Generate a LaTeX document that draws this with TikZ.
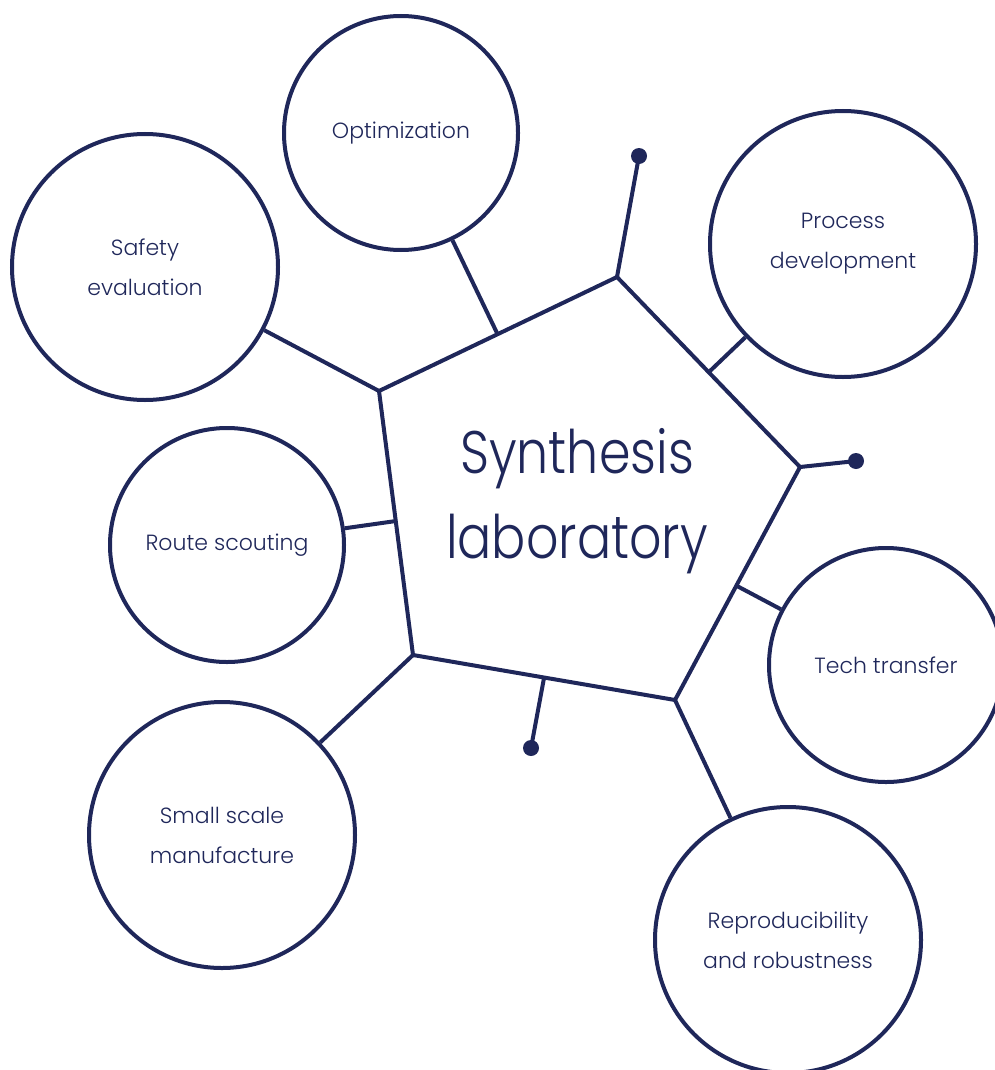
\documentclass[tikz,border=0pt]{standalone}
\usepackage{fontspec}
\IfFontExistsTF{Poppins Light}{\setmainfont{Poppins Light}}{\setmainfont{Poppins}}
\definecolor{navy}{HTML}{1F275A}
\tikzset{
  ln/.style={draw=navy,line width=4pt},
  bubble/.style={circle,draw=navy,line width=4pt,inner sep=0pt,text=navy,align=center,
    font=\fontsize{22}{40}\selectfont},
  dotend/.style={circle,fill=navy,inner sep=0pt,minimum size=16pt},
}
\begin{document}
\begin{tikzpicture}[x=1pt,y=-1pt]
\useasboundingbox (0,0) rectangle (995,1070);
\clip (0,0) rectangle (995,1070);
% pentagon vertices
\coordinate (P1) at (617,277);
\coordinate (P2) at (800,467);
\coordinate (P3) at (675,700);
\coordinate (P4) at (413,655);
\coordinate (P5) at (379,391);
\draw[ln,line join=miter] (P1) -- (P2) -- (P3) -- (P4) -- (P5) -- cycle;
\node[text=navy,inner sep=0pt] (title) at (577,499)
  {\scalebox{0.845}[1]{\fontsize{60}{85}\selectfont\begin{tabular}{@{}c@{}}Synthesis\\laboratory\end{tabular}}};
% edge attach points
\coordinate (eOpt) at (497,333);
\coordinate (eProc) at (710,371);
\coordinate (eRoute) at (396,521);
\coordinate (eTech) at (737,586);
\coordinate (eBot) at (544,678);
% circles
\node[bubble,minimum size=234pt] (opt) at (401,133) {Optimization};
\node[bubble,minimum size=266pt] (safe) at (145,267) {Safety\\evaluation};
\node[bubble,minimum size=266pt] (proc) at (843,244) {Process\\development};
\node[bubble,minimum size=234pt] (route) at (227,545) {Route scouting};
\node[bubble,minimum size=234pt] (tech) at (886,665) {Tech transfer};
\node[bubble,minimum size=266pt] (small) at (222,835) {Small scale\\manufacture};
\node[bubble,minimum size=266pt] (repro) at (788,940) {Reproducibility\\and robustness};
% dots
\node[dotend] (d1) at (639,156) {};
\node[dotend] (d2) at (856,461) {};
\node[dotend] (d3) at (531,748) {};
% connectors
\draw[ln] (opt) -- (eOpt);
\draw[ln] (safe) -- (P5);
\draw[ln] (proc) -- (eProc);
\draw[ln] (route) -- (eRoute);
\draw[ln] (tech) -- (eTech);
\draw[ln] (small) -- (P4);
\draw[ln] (repro) -- (P3);
\draw[ln] (P1) -- (d1.center);
\draw[ln] (P2) -- (d2.center);
\draw[ln] (eBot) -- (d3.center);
\end{tikzpicture}
\end{document}
